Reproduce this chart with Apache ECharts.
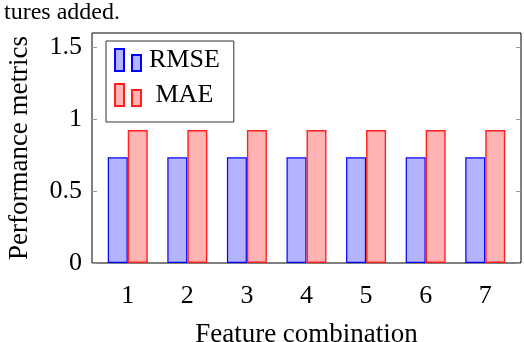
<!DOCTYPE html>
<html>
<head>
<meta charset="utf-8">
<script src="https://cdn.jsdelivr.net/npm/echarts@6/dist/echarts.min.js"></script>
<style>
  html, body { margin: 0; padding: 0; background: #fff; }
  #main { width: 524px; height: 342px; }
</style>
</head>
<body>
<div id="main"></div>
<script>
// data
var combos = [1, 2, 3, 4, 5, 6, 7];
var rmse = [0.735, 0.735, 0.735, 0.735, 0.735, 0.735, 0.735];
var mae = [0.925, 0.925, 0.925, 0.925, 0.925, 0.925, 0.925];
var yTicks = [0, 0.5, 1, 1.5];

var FONT = '"Liberation Serif", "DejaVu Serif", serif';

function pairs(vals) {
  return combos.map(function (c, i) { return [c, vals[i]]; });
}

var myChart = echarts.init(document.getElementById('main'));
myChart.setOption({
  animation: false,
  title: {
    text: 'tures added.',
    left: -1,
    top: -4,
    textStyle: { fontFamily: FONT, fontSize: 24, fontWeight: 'normal', color: '#000' }
  },
  grid: {
    show: true,
    left: 92,
    right: 3,
    top: 33,
    bottom: 79,
    outerBoundsMode: 'none',
    containLabel: false,
    borderColor: '#000',
    borderWidth: 1,
    backgroundColor: 'transparent'
  },
  legend: {
    orient: 'vertical',
    left: 106,
    top: 41,
    padding: [6, 14, 14, 8],
    itemGap: 9,
    itemWidth: 26,
    itemHeight: 22,
    borderColor: '#333',
    borderWidth: 1,
    icon: 'path://M0,0H9V22H0Z M17,6H26V22H17Z',
    textStyle: { fontFamily: FONT, fontSize: 26, color: '#000', lineHeight: 26, padding: [0, 0, 0, 3] },
    // pgfplots leaves MAE a bit indented
    formatter: function (name) { return name === 'MAE' ? ' ' + name : name; },
    data: ['RMSE', 'MAE']
  },
  xAxis: {
    type: 'value',
    min: 0.4,
    max: 7.6,
    name: 'Feature combination',
    nameLocation: 'middle',
    nameGap: 58,
    nameTextStyle: { fontFamily: FONT, fontSize: 27, color: '#000' },
    axisLine: { show: false },
    axisTick: { show: false },
    splitLine: { show: false },
    axisLabel: {
      customValues: combos,
      margin: 20,
      fontFamily: FONT, fontSize: 26, color: '#000'
    }
  },
  yAxis: [
    {
      type: 'value',
      min: 0,
      max: 1.6,
      interval: 0.5,
      name: 'Performance metrics',
      nameLocation: 'middle',
      nameGap: 59,
      nameTextStyle: { fontFamily: FONT, fontSize: 27, color: '#000' },
      axisLine: { show: false },
      splitLine: { show: false },
      axisTick: { show: true, inside: true, length: 5, lineStyle: { color: '#999' }, customValues: yTicks },
      axisLabel: {
        customValues: yTicks,
        margin: 10,
        fontFamily: FONT, fontSize: 26, color: '#000',
        formatter: function (v) { return String(v); }
      }
    },
    {
      type: 'value',
      position: 'right',
      min: 0,
      max: 1.6,
      interval: 0.5,
      axisLine: { show: false },
      splitLine: { show: false },
      axisLabel: { show: false },
      axisTick: { show: true, inside: true, length: 5, lineStyle: { color: '#999' }, customValues: yTicks }
    }
  ],
  series: [
    {
      name: 'RMSE',
      type: 'bar',
      data: pairs(rmse),
      barWidth: 20,
      barGap: '0%',
      itemStyle: { color: 'rgb(179,179,255)', borderColor: '#0000ff', borderWidth: 1.2 }
    },
    {
      name: 'MAE',
      type: 'bar',
      data: pairs(mae),
      barWidth: 20,
      barGap: '0%',
      itemStyle: { color: 'rgb(255,179,179)', borderColor: '#ff2020', borderWidth: 1.4 }
    }
  ]
});
</script>
</body>
</html>
